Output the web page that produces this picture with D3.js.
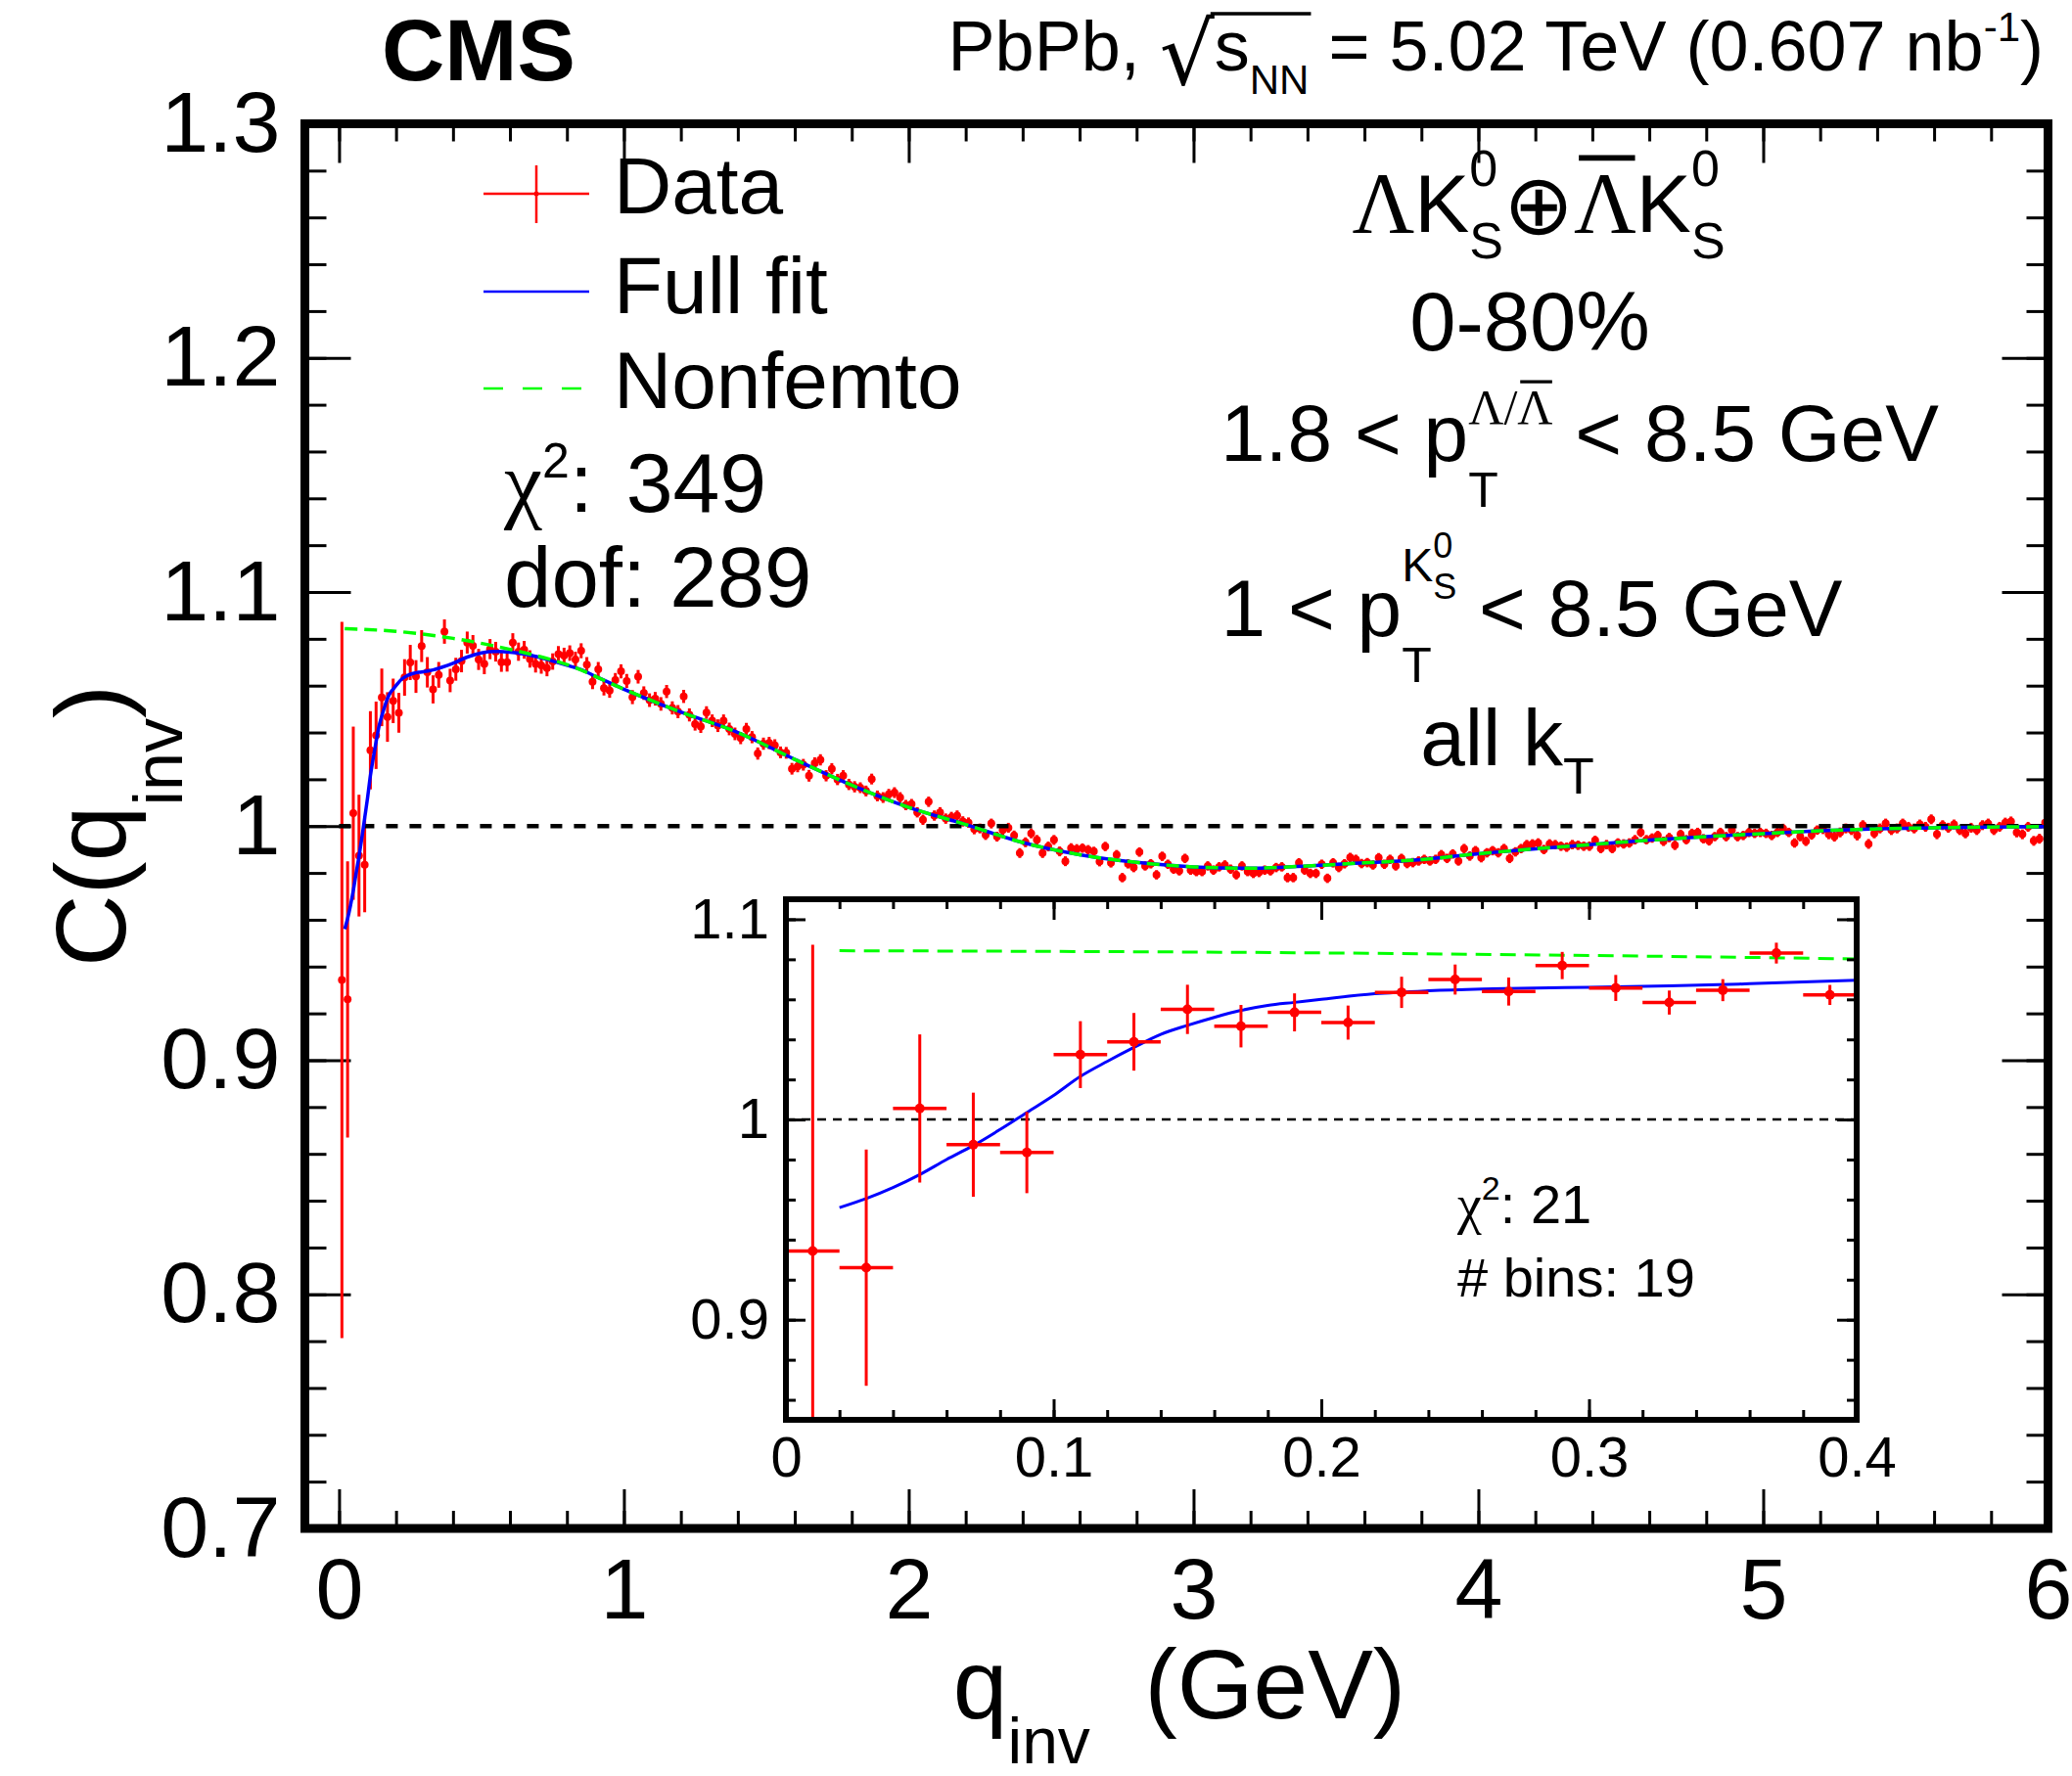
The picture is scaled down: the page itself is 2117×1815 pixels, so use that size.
<!DOCTYPE html>
<html>
<head>
<meta charset="utf-8">
<script src="https://cdn.jsdelivr.net/npm/d3@7"></script>
<style>
html, body { margin: 0; padding: 0; background: #fff; }
svg { display: block; }
text { font-family: "Liberation Sans", Arial, Helvetica, sans-serif; fill: #000; white-space: pre; }
</style>
</head>
<body>
<div id="chart"></div>
<script>
// ---- data ----
const binWidth = 0.02;   // q_inv bins: 0-0.02, 0.02-0.04, ... 5.98-6.00

const corrValues = [
  0.9343,0.9260,1.0055,0.9874,0.9835,1.0324,1.0388,1.0550,1.0466,1.0535,
  1.0484,1.0635,1.0699,1.0639,1.0769,1.0657,1.0584,1.0646,1.0831,1.0622,
  1.0670,1.0705,1.0784,1.0770,1.0712,1.0693,1.0756,1.0745,1.0700,1.0700,
  1.0784,1.0745,1.0753,1.0714,1.0693,1.0687,1.0675,1.0703,1.0735,1.0728,
  1.0739,1.0712,1.0749,1.0690,1.0617,1.0670,1.0589,1.0579,1.0624,1.0661,
  1.0620,1.0551,1.0638,1.0568,1.0538,1.0544,1.0522,1.0575,1.0505,1.0489,
  1.0554,1.0475,1.0436,1.0425,1.0485,1.0450,1.0429,1.0450,1.0415,1.0394,
  1.0376,1.0415,1.0380,1.0310,1.0352,1.0355,1.0345,1.0315,1.0313,1.0245,
  1.0255,1.0262,1.0215,1.0269,1.0283,1.0215,1.0245,1.0199,1.0215,1.0178,
  1.0168,1.0164,1.0150,1.0201,1.0129,1.0122,1.0136,1.0143,1.0122,1.0090,
  1.0094,1.0059,1.0027,1.0104,1.0045,1.0059,1.0032,1.0039,1.0045,1.0020,
  1.0015,0.9987,0.9990,0.9962,1.0011,0.9955,0.9983,0.9993,0.9960,0.9885,
  0.9931,0.9969,0.9941,0.9885,0.9913,0.9941,0.9892,0.9850,0.9906,0.9902,
  0.9906,0.9899,0.9892,0.9848,0.9913,0.9843,0.9878,0.9780,0.9839,0.9823,
  0.9889,0.9830,0.9839,0.9792,0.9871,0.9837,0.9816,0.9809,0.9862,0.9812,
  0.9806,0.9806,0.9830,0.9812,0.9826,0.9834,0.9816,0.9792,0.9830,0.9806,
  0.9798,0.9802,0.9812,0.9809,0.9823,0.9826,0.9780,0.9780,0.9843,0.9812,
  0.9798,0.9798,0.9837,0.9777,0.9843,0.9823,0.9839,0.9866,0.9858,0.9840,
  0.9844,0.9834,0.9865,0.9837,0.9858,0.9830,0.9862,0.9840,0.9844,0.9851,
  0.9858,0.9851,0.9858,0.9878,0.9862,0.9881,0.9851,0.9904,0.9872,0.9895,
  0.9865,0.9886,0.9895,0.9886,0.9904,0.9862,0.9890,0.9904,0.9921,0.9924,
  0.9928,0.9900,0.9924,0.9921,0.9914,0.9910,0.9921,0.9918,0.9914,0.9914,
  0.9939,0.9904,0.9921,0.9904,0.9928,0.9924,0.9928,0.9942,0.9973,0.9942,
  0.9949,0.9960,0.9935,0.9951,0.9918,0.9965,0.9942,0.9969,0.9973,0.9946,
  0.9937,0.9955,0.9973,0.9955,0.9983,0.9955,0.9960,0.9973,0.9969,0.9973,
  0.9969,0.9960,0.9973,0.9990,0.9973,0.9928,0.9955,0.9935,0.9962,0.9983,
  0.9987,0.9965,0.9955,0.9973,0.9990,0.9983,0.9960,1.0004,0.9924,0.9969,
  0.9990,1.0011,0.9983,0.9990,1.0011,0.9997,0.9990,1.0007,0.9997,1.0029,
  0.9965,1.0004,0.9993,1.0007,0.9983,0.9969,0.9993,0.9983,1.0004,1.0011,
  0.9983,0.9997,1.0015,1.0020,0.9973,0.9965,0.9997,0.9937,0.9946,1.0015
];

const corrErrors = [
  0.1530,0.0590,0.0370,0.0260,0.0203,0.0167,0.0144,0.0123,0.0106,0.0095,
  0.0085,0.0078,0.0075,0.0070,0.0068,0.0065,0.0060,0.0055,0.0052,0.0050,
  0.0049,0.0048,0.0047,0.0046,0.0045,0.0044,0.0043,0.0042,0.0041,0.0040,
  0.0040,0.0039,0.0038,0.0037,0.0037,0.0036,0.0035,0.0035,0.0034,0.0034,
  0.0033,0.0033,0.0032,0.0032,0.0032,0.0031,0.0031,0.0031,0.0030,0.0030,
  0.0030,0.0030,0.0029,0.0029,0.0029,0.0029,0.0029,0.0028,0.0028,0.0028,
  0.0028,0.0028,0.0028,0.0027,0.0027,0.0027,0.0027,0.0027,0.0027,0.0027,
  0.0026,0.0026,0.0026,0.0026,0.0026,0.0026,0.0026,0.0025,0.0025,0.0025,
  0.0025,0.0025,0.0025,0.0025,0.0024,0.0024,0.0024,0.0024,0.0024,0.0024,
  0.0024,0.0023,0.0023,0.0023,0.0023,0.0023,0.0023,0.0023,0.0023,0.0022,
  0.0022,0.0022,0.0022,0.0022,0.0022,0.0022,0.0022,0.0022,0.0022,0.0022,
  0.0022,0.0022,0.0021,0.0021,0.0021,0.0021,0.0021,0.0021,0.0021,0.0021,
  0.0021,0.0021,0.0021,0.0021,0.0021,0.0021,0.0021,0.0021,0.0021,0.0021,
  0.0020,0.0020,0.0020,0.0020,0.0020,0.0020,0.0020,0.0020,0.0020,0.0020,
  0.0020,0.0020,0.0020,0.0020,0.0020,0.0020,0.0020,0.0020,0.0020,0.0020,
  0.0020,0.0020,0.0020,0.0020,0.0020,0.0020,0.0020,0.0020,0.0020,0.0020,
  0.0020,0.0020,0.0020,0.0020,0.0020,0.0020,0.0020,0.0020,0.0020,0.0020,
  0.0020,0.0020,0.0020,0.0020,0.0020,0.0020,0.0020,0.0020,0.0020,0.0020,
  0.0020,0.0020,0.0020,0.0020,0.0020,0.0020,0.0020,0.0020,0.0020,0.0020,
  0.0020,0.0020,0.0020,0.0020,0.0020,0.0020,0.0020,0.0020,0.0020,0.0020,
  0.0020,0.0020,0.0020,0.0020,0.0020,0.0020,0.0020,0.0020,0.0020,0.0020,
  0.0020,0.0020,0.0020,0.0020,0.0020,0.0020,0.0020,0.0020,0.0020,0.0020,
  0.0020,0.0020,0.0020,0.0020,0.0020,0.0020,0.0020,0.0020,0.0020,0.0020,
  0.0020,0.0020,0.0020,0.0020,0.0020,0.0020,0.0020,0.0020,0.0020,0.0020,
  0.0020,0.0020,0.0020,0.0020,0.0020,0.0020,0.0020,0.0020,0.0020,0.0020,
  0.0020,0.0020,0.0020,0.0020,0.0020,0.0020,0.0020,0.0020,0.0020,0.0020,
  0.0021,0.0021,0.0021,0.0021,0.0021,0.0021,0.0021,0.0021,0.0021,0.0021,
  0.0021,0.0021,0.0021,0.0021,0.0021,0.0021,0.0021,0.0021,0.0021,0.0021,
  0.0021,0.0021,0.0021,0.0021,0.0021,0.0021,0.0021,0.0021,0.0021,0.0021,
  0.0021,0.0021,0.0021,0.0021,0.0021,0.0021,0.0021,0.0021,0.0021,0.0021
];

const fullFitQ = [0.02,0.03,0.04,0.05,0.06,0.07,0.08,0.09,0.10,0.11,0.12,0.13,0.14,0.15,0.16,0.17,0.18,0.19,0.20,
  0.22,0.24,0.26,0.28,0.30,0.33,0.36,0.40,0.45,0.50,0.55,0.60,0.65,0.70,0.75,0.80,0.85,0.90,1.0,
  1.2,1.4,1.6,1.8,2.0,2.2,2.4,2.6,2.8,3.0,3.2,3.4,3.6,3.8,4.0,4.2,4.4,4.6,4.8,5.0,5.2,5.4,5.6,5.8,6.0];
const fullFitC = [0.9560,0.9605,0.9660,0.9725,0.9800,0.9870,0.9950,1.0035,1.0120,1.0215,1.0290,1.0360,1.0425,1.0470,1.0510,1.0545,1.0570,1.0585,1.0600,
  1.0628,1.0643,1.0652,1.0657,1.0660,1.0667,1.0678,1.0695,1.0722,1.0740,1.0746,1.0743,1.0735,1.0722,1.0705,1.0687,1.0668,1.0640,1.0585,
  1.0487,1.0400,1.0285,1.0175,1.0080,1.0007,0.9930,0.9878,0.9845,0.9826,0.9820,0.9830,0.9843,0.9857,0.9882,0.9903,0.9922,0.9940,0.9955,0.9968,0.9980,0.9988,0.9993,0.9996,0.9998];

const nonfemtoQ = [0.02,0.2,0.4,0.6,0.8,1.0,1.2,1.4,1.6,1.8,2.0,2.2,2.4,2.6,2.8,3.0,3.2,3.4,3.6,3.8,4.0,4.2,4.4,4.6,4.8,5.0,5.2,5.4,5.6,5.8,6.0];
const nonfemtoC = [1.0843,1.0832,1.0802,1.0755,1.0690,1.0585,1.0487,1.0400,1.0285,1.0175,1.0080,1.0007,0.9930,0.9878,0.9845,0.9826,0.9820,0.9830,0.9843,0.9857,0.9882,0.9903,0.9922,0.9940,0.9955,0.9968,0.9980,0.9988,0.9993,0.9996,0.9998];

const mainXTicks = [0, 1, 2, 3, 4, 5, 6];
const mainXLabels = ["0", "1", "2", "3", "4", "5", "6"];
const mainYTicks = [0.7, 0.8, 0.9, 1.0, 1.1, 1.2, 1.3];
const mainYLabels = ["0.7", "0.8", "0.9", "1", "1.1", "1.2", "1.3"];
const insetXTicks = [0, 0.1, 0.2, 0.3, 0.4];
const insetXLabels = ["0", "0.1", "0.2", "0.3", "0.4"];
const insetYTicks = [0.9, 1.0, 1.1];
const insetYLabels = ["0.9", "1", "1.1"];
const insetBins = 20;

// ---- layout ----
const W = 2117, H = 1815;
const SANS = '"Liberation Sans", Arial, Helvetica, sans-serif';
const SERIF = '"Liberation Serif", "DejaVu Serif", serif';
const RED = "#ff0000", BLUE = "#0000ff", GREEN = "#00ff00";

const svg = d3.select("#chart").append("svg").attr("width", W).attr("height", H);
svg.append("rect").attr("width", W).attr("height", H).attr("fill", "#fff");

// main frame
const X0 = 311.5, X1 = 2092.5, Y0 = 126.5, Y1 = 1562;
const x = d3.scaleLinear().domain([-0.12, 6.0]).range([X0, X1]);
const y = d3.scaleLinear().domain([0.7, 1.3]).range([Y1, Y0]);

// inset frame
const IX0 = 803, IX1 = 1897, IY0 = 919, IY1 = 1451;
const ix = d3.scaleLinear().domain([0, 0.4]).range([IX0, IX1]);
const iy = d3.scaleLinear().domain([0.85, 1.11]).range([IY1, IY0]);

// rich text: runs laid out left to right; "at" restarts at the start of an earlier run (stacked sub/sup)
function rich(parent, px, py, runs, anchor, rot) {
  const g = parent.append("g");
  const placed = [];
  let maxEnd = 0;
  runs.forEach(r => {
    const start = (r.at !== undefined) ? placed[r.at].start : maxEnd + (r.gap || 0);
    const t = g.append("text").attr("x", start).attr("y", r.dy || 0)
      .attr("xml:space", "preserve")
      .style("font-size", r.fs + "px").text(r.t);
    if (r.font) t.style("font-family", r.font);
    if (r.bold) t.style("font-weight", "bold");
    const w = t.node().getComputedTextLength();
    placed.push({ r, t, start, end: start + w, w });
    maxEnd = Math.max(maxEnd, start + w);
  });
  placed.forEach(p => {
    if (p.r.over) {
      g.append("line")
        .attr("x1", p.start + p.w * 0.08).attr("x2", p.end - p.w * 0.02)
        .attr("y1", (p.r.dy || 0) - p.r.fs * 0.86).attr("y2", (p.r.dy || 0) - p.r.fs * 0.86)
        .attr("stroke", "#000").attr("stroke-width", p.r.fs * 0.065);
    }
  });
  const k = anchor === "middle" ? 0.5 : anchor === "end" ? 1 : 0;
  g.attr("transform", `translate(${px},${py})` + (rot ? ` rotate(${rot})` : "") + ` translate(${-k * maxEnd},0)`);
  return { g, placed };
}

// ---- axes ----
function styleAxis(g, fs) {
  g.select(".domain").remove();
  g.attr("font-family", SANS).attr("font-size", fs);
  g.selectAll(".tick line").attr("stroke", "#000").attr("stroke-width", 3);
  g.selectAll(".tick text").attr("fill", "#000");
}

function drawAxes(sx, sy, fx0, fx1, fy0, fy1, opt) {
  const xmin = sx.ticks(opt.xMinorN), ymin = sy.ticks(opt.yMinorN);
  // bottom
  styleAxis(svg.append("g").attr("transform", `translate(0,${fy1})`)
    .call(d3.axisBottom(sx).tickValues(xmin).tickSize(-opt.xMinor).tickFormat("")), opt.fs);
  styleAxis(svg.append("g").attr("transform", `translate(0,${fy1})`)
    .call(d3.axisBottom(sx).tickValues(opt.xTicks).tickSize(-opt.xMajor).tickPadding(opt.xPad)
      .tickFormat((d, i) => opt.xLabels[i])), opt.fs);
  // top
  styleAxis(svg.append("g").attr("transform", `translate(0,${fy0})`)
    .call(d3.axisTop(sx).tickValues(xmin).tickSize(-opt.xMinor).tickFormat("")), opt.fs);
  styleAxis(svg.append("g").attr("transform", `translate(0,${fy0})`)
    .call(d3.axisTop(sx).tickValues(opt.xTicks).tickSize(-opt.xMajor).tickFormat("")), opt.fs);
  // left
  styleAxis(svg.append("g").attr("transform", `translate(${fx0},0)`)
    .call(d3.axisLeft(sy).tickValues(ymin).tickSize(-opt.yMinor).tickFormat("")), opt.fs);
  styleAxis(svg.append("g").attr("transform", `translate(${fx0},0)`)
    .call(d3.axisLeft(sy).tickValues(opt.yTicks).tickSize(-opt.yMajor).tickPadding(opt.yPad)
      .tickFormat((d, i) => opt.yLabels[i])), opt.fs);
  // right
  styleAxis(svg.append("g").attr("transform", `translate(${fx1},0)`)
    .call(d3.axisRight(sy).tickValues(ymin).tickSize(-opt.yMinor).tickFormat("")), opt.fs);
  styleAxis(svg.append("g").attr("transform", `translate(${fx1},0)`)
    .call(d3.axisRight(sy).tickValues(opt.yTicks).tickSize(-opt.yMajor).tickFormat("")), opt.fs);
}

drawAxes(x, y, X0, X1, Y0, Y1, {
  xTicks: mainXTicks, xLabels: mainXLabels, yTicks: mainYTicks, yLabels: mainYLabels,
  xMinorN: 30, yMinorN: 30, xMajor: 40, xMinor: 18, yMajor: 47, yMinor: 22,
  xPad: 30, yPad: 25, fs: 88
});

// ---- main plot content ----
const main = svg.append("g");
const bins = corrValues.map((v, i) => ({ q: (i + 0.5) * binWidth, v, e: corrErrors[i] }));

const mainPts = main.append("g");
mainPts.selectAll("line.ev").data(bins).join("line").attr("class", "ev")
  .attr("x1", d => x(d.q)).attr("x2", d => x(d.q))
  .attr("y1", d => y(d.v - d.e)).attr("y2", d => y(d.v + d.e))
  .attr("stroke", RED).attr("stroke-width", 3);
mainPts.selectAll("line.eh").data(bins).join("line").attr("class", "eh")
  .attr("x1", d => x(d.q - binWidth / 2)).attr("x2", d => x(d.q + binWidth / 2))
  .attr("y1", d => y(d.v)).attr("y2", d => y(d.v))
  .attr("stroke", RED).attr("stroke-width", 3);
mainPts.selectAll("circle").data(bins).join("circle")
  .attr("cx", d => x(d.q)).attr("cy", d => y(d.v)).attr("r", 4).attr("fill", RED);

main.append("line").attr("x1", x(0)).attr("x2", x(6)).attr("y1", y(1)).attr("y2", y(1))
  .attr("stroke", "#000").attr("stroke-width", 4.5).attr("stroke-dasharray", "12,12");

const mainLine = d3.line().x(d => x(d[0])).y(d => y(d[1])).curve(d3.curveMonotoneX);
main.append("path").datum(fullFitQ.map((q, i) => [q, fullFitC[i]]))
  .attr("d", mainLine).attr("fill", "none").attr("stroke", BLUE).attr("stroke-width", 3.5);
main.append("path").datum(nonfemtoQ.map((q, i) => [q, nonfemtoC[i]]))
  .attr("d", mainLine).attr("fill", "none").attr("stroke", GREEN).attr("stroke-width", 3.5)
  .attr("stroke-dasharray", "13,7");

// main frame
svg.append("rect").attr("x", X0).attr("y", Y0).attr("width", X1 - X0).attr("height", Y1 - Y0)
  .attr("fill", "none").attr("stroke", "#000").attr("stroke-width", 9);

// ---- inset ----
svg.append("rect").attr("x", IX0).attr("y", IY0).attr("width", IX1 - IX0).attr("height", IY1 - IY0)
  .attr("fill", "#fff");
svg.append("clipPath").attr("id", "insetClip").append("rect")
  .attr("x", IX0).attr("y", IY0).attr("width", IX1 - IX0).attr("height", IY1 - IY0);
const inset = svg.append("g").attr("clip-path", "url(#insetClip)");

inset.append("line").attr("x1", ix(0)).attr("x2", ix(0.4)).attr("y1", iy(1)).attr("y2", iy(1))
  .attr("stroke", "#000").attr("stroke-width", 2.5).attr("stroke-dasharray", "9,7");

const insetLine = d3.line().x(d => ix(d[0])).y(d => iy(d[1])).curve(d3.curveMonotoneX);
inset.append("path").datum(fullFitQ.map((q, i) => [q, fullFitC[i]]).filter(d => d[0] <= 0.45))
  .attr("d", insetLine).attr("fill", "none").attr("stroke", BLUE).attr("stroke-width", 3);
inset.append("path").datum(nonfemtoQ.map((q, i) => [q, nonfemtoC[i]]).filter(d => d[0] <= 0.6))
  .attr("d", insetLine).attr("fill", "none").attr("stroke", GREEN).attr("stroke-width", 3)
  .attr("stroke-dasharray", "16,9");

const ib = bins.slice(0, insetBins);
inset.selectAll("line.ev").data(ib).join("line").attr("class", "ev")
  .attr("x1", d => ix(d.q)).attr("x2", d => ix(d.q))
  .attr("y1", d => iy(d.v - d.e)).attr("y2", d => iy(d.v + d.e))
  .attr("stroke", RED).attr("stroke-width", 3);
inset.selectAll("line.eh").data(ib).join("line").attr("class", "eh")
  .attr("x1", d => ix(d.q - binWidth / 2)).attr("x2", d => ix(d.q + binWidth / 2))
  .attr("y1", d => iy(d.v)).attr("y2", d => iy(d.v))
  .attr("stroke", RED).attr("stroke-width", 3.5);
inset.selectAll("circle").data(ib).join("circle")
  .attr("cx", d => ix(d.q)).attr("cy", d => iy(d.v)).attr("r", 5).attr("fill", RED);

drawAxes(ix, iy, IX0, IX1, IY0, IY1, {
  xTicks: insetXTicks, xLabels: insetXLabels, yTicks: insetYTicks, yLabels: insetYLabels,
  xMinorN: 20, yMinorN: 13, xMajor: 21, xMinor: 10, yMajor: 20, yMinor: 10,
  xPad: 17, yPad: 17, fs: 58
});
svg.append("rect").attr("x", IX0).attr("y", IY0).attr("width", IX1 - IX0).attr("height", IY1 - IY0)
  .attr("fill", "none").attr("stroke", "#000").attr("stroke-width", 6);

rich(svg, 1489, 1250, [
  { t: "χ", fs: 56, font: SERIF }, { t: "2", fs: 34, dy: -24 }, { t: ": 21", fs: 56 }
], "start");
rich(svg, 1489, 1325, [{ t: "# bins: 19", fs: 56 }], "start");

// ---- legend ----
const leg = svg.append("g");
leg.append("line").attr("x1", 494).attr("x2", 602).attr("y1", 198).attr("y2", 198)
  .attr("stroke", RED).attr("stroke-width", 2.5);
leg.append("line").attr("x1", 548).attr("x2", 548).attr("y1", 169).attr("y2", 228)
  .attr("stroke", RED).attr("stroke-width", 2.5);
leg.append("circle").attr("cx", 548).attr("cy", 198).attr("r", 2.5).attr("fill", RED);
leg.append("line").attr("x1", 494).attr("x2", 602).attr("y1", 298).attr("y2", 298)
  .attr("stroke", BLUE).attr("stroke-width", 2.5);
leg.append("line").attr("x1", 494).attr("x2", 602).attr("y1", 397).attr("y2", 397)
  .attr("stroke", GREEN).attr("stroke-width", 2.5).attr("stroke-dasharray", "20,20");
rich(svg, 627, 218, [{ t: "Data", fs: 82 }], "start");
rich(svg, 627, 320, [{ t: "Full fit", fs: 82 }], "start");
rich(svg, 627, 417, [{ t: "Nonfemto", fs: 82 }], "start");

rich(svg, 515, 523, [
  { t: "χ", fs: 88, font: SERIF }, { t: "2", fs: 50, dy: -35 }, { t: ":", fs: 86 }, { t: " 349", fs: 86, gap: 10 }
], "start");
rich(svg, 515, 620, [{ t: "dof: 289", fs: 87 }], "start");

// ---- right-hand labels ----
rich(svg, 1572, 237, [
  { t: "Λ", fs: 88, font: SERIF }, { t: "K", fs: 84 },
  { t: "0", fs: 52, dy: -47 }, { t: "S", fs: 52, dy: 27, at: 2 },
  { t: "⊕", fs: 86, font: '"DejaVu Sans", sans-serif', dy: 2 },
  { t: "Λ", fs: 88, font: SERIF, over: true }, { t: "K", fs: 84 },
  { t: "0", fs: 52, dy: -47 }, { t: "S", fs: 52, dy: 27, at: 7 }
], "middle");
rich(svg, 1563, 358, [{ t: "0-80%", fs: 85 }], "middle");
rich(svg, 1614, 471, [
  { t: "1.8 < p", fs: 82 },
  { t: "Λ", fs: 50, font: SERIF, dy: -38 }, { t: "/", fs: 50, font: SERIF, dy: -38 },
  { t: "Λ", fs: 50, font: SERIF, dy: -38, over: true },
  { t: "T", fs: 50, dy: 47, at: 1 },
  { t: " < 8.5 GeV", fs: 82 }
], "middle");
rich(svg, 1565, 650, [
  { t: "1 < p", fs: 82 },
  { t: "K", fs: 48, dy: -56 }, { t: "0", fs: 36, dy: -80 }, { t: "S", fs: 36, dy: -38, at: 2 },
  { t: "T", fs: 50, dy: 47, at: 1 },
  { t: " < 8.5 GeV", fs: 82 }
], "middle");
rich(svg, 1540, 782, [{ t: "all k", fs: 82 }, { t: "T", fs: 52, dy: 29 }], "middle");

// ---- header ----
rich(svg, 390, 82, [{ t: "CMS", fs: 89, bold: true }], "start");
const hdr = rich(svg, 2088, 72, [
  { t: "PbPb, ", fs: 72 },
  { t: "√", fs: 88, font: '"DejaVu Sans", sans-serif', dy: 14 },
  { t: "s", fs: 72 },
  { t: "NN", fs: 42, dy: 24 },
  { t: " = 5.02 TeV (0.607 nb", fs: 72 },
  { t: "-1", fs: 42, dy: -30 },
  { t: ")", fs: 72 }
], "end");
hdr.g.append("line")
  .attr("x1", hdr.placed[1].end - 4).attr("x2", hdr.placed[3].end + 2)
  .attr("y1", -58).attr("y2", -58).attr("stroke", "#000").attr("stroke-width", 3.5);

// ---- axis titles ----
rich(svg, 1205, 1756, [{ t: "q", fs: 100 }, { t: "inv", fs: 66, dy: 46 }, { t: "  (GeV)", fs: 100 }], "middle");
rich(svg, 128, 844, [{ t: "C(q", fs: 102 }, { t: "inv", fs: 70, dy: 58 }, { t: ")", fs: 102 }], "middle", -90);
</script>
</body>
</html>
